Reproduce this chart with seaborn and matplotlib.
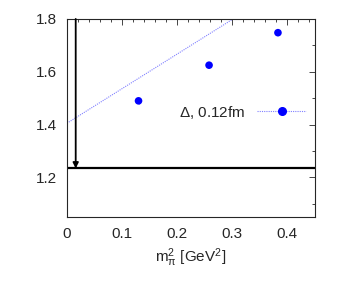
import numpy as np
import matplotlib
matplotlib.use('Agg')
import matplotlib.pyplot as plt
import seaborn as sns
from matplotlib.lines import Line2D
from matplotlib.ticker import MultipleLocator

# dados
mpi2 = [0.130, 0.258, 0.383]
massa = [1.490, 1.625, 1.748]
erro = [0.012, 0.008, 0.007]

# ajuste linear (pontilhado) e valor fisico
fit_x = [0.0, 0.45]
fit_y = [1.405, 1.405 + 1.31 * 0.45]
fisico = 1.234
x_fisico = 0.016

sns.set_style('white')
plt.rcParams['font.family'] = ['Liberation Sans', 'DejaVu Sans']
plt.rcParams['mathtext.fontset'] = 'custom'
plt.rcParams['mathtext.rm'] = 'Liberation Sans'
plt.rcParams['mathtext.it'] = 'Liberation Sans'

fig, ax = plt.subplots(figsize=(3.43, 2.83), dpi=100)
fig.subplots_adjust(left=0.195, right=0.918, top=0.933, bottom=0.233)

sns.lineplot(x=fit_x, y=fit_y, ax=ax, color='#8080ff', linestyle=(0, (1, 1)), linewidth=0.8)
ax.errorbar(mpi2, massa, yerr=erro, fmt='none', ecolor='#8080ff', elinewidth=0.8, capsize=0)
sns.scatterplot(x=mpi2, y=massa, ax=ax, color='#0000ff', s=30, edgecolor='none', zorder=3)

ax.axhline(fisico, color='black', linewidth=1.6)
ax.annotate('', xy=(x_fisico, fisico), xytext=(x_fisico, 1.8),
            arrowprops=dict(arrowstyle='-|>', color='black', lw=1.3, mutation_scale=8,
                            shrinkA=0, shrinkB=0))

ax.set_xlim(0, 0.45)
ax.set_ylim(1.05, 1.8)
ax.set_xticks([0, 0.1, 0.2, 0.3, 0.4])
ax.set_xticklabels(['0', '0.1', '0.2', '0.3', '0.4'])
ax.set_yticks([1.2, 1.4, 1.6, 1.8])
ax.xaxis.set_minor_locator(MultipleLocator(0.02))
ax.yaxis.set_minor_locator(MultipleLocator(0.1))
ax.tick_params(which='both', direction='in', top=True, right=True, labelsize=11)
ax.tick_params(which='major', length=4, width=0.6, pad=7)
ax.tick_params(which='minor', length=2, width=0.6)
for s in ax.spines.values():
    s.set_linewidth(0.8)

ax.set_xlabel(r'm$_{\pi}^{2}$ [GeV$^{2}$]', fontsize=11, labelpad=4)

handle = Line2D([], [], color='#8080ff', linestyle=(0, (1, 1)), linewidth=0.8,
                marker='o', markersize=5.5, markerfacecolor='#0000ff', markeredgecolor='#0000ff')
ax.legend([handle], [r'$\Delta$, 0.12fm'], loc='center right', bbox_to_anchor=(1.02, 0.53),
          frameon=False, markerfirst=False, handlelength=3.2, fontsize=11, handletextpad=0.8)

fig.savefig('out.png', dpi=100)
